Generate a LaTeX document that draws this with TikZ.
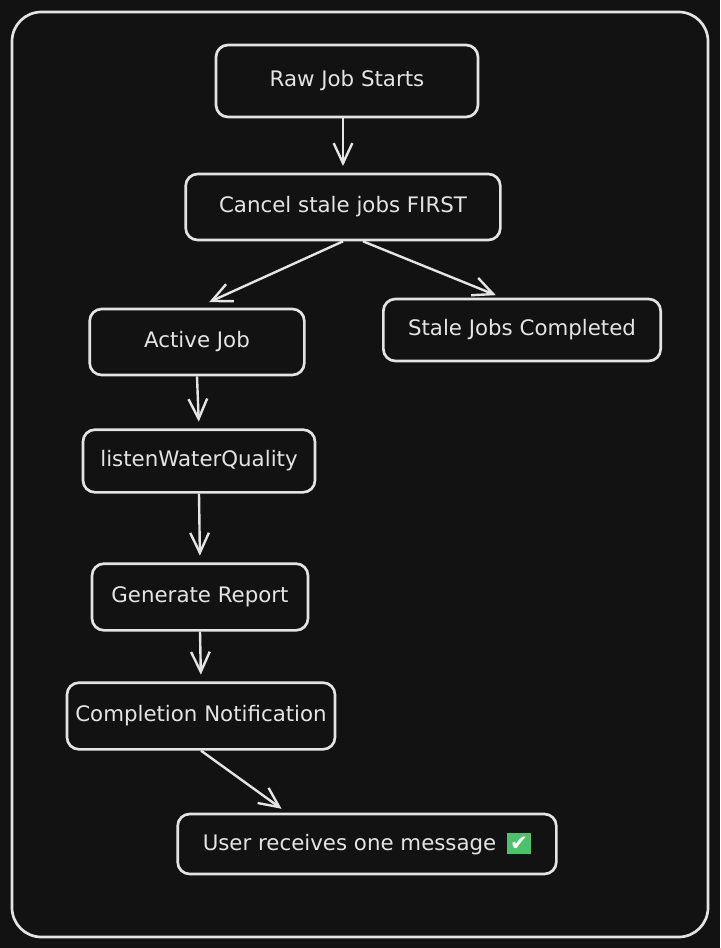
\documentclass[tikz,border=0pt]{standalone}
\usepackage{fontspec}
\setmainfont{DejaVu Sans}
\usetikzlibrary{arrows.meta}
\definecolor{canvas}{HTML}{121212}
\definecolor{ink}{HTML}{E4E4E4}
\definecolor{okgreen}{HTML}{4CC26B}
\tikzset{card/.style={draw=ink, line width=2pt, rounded corners=9pt, text=ink, font=\fontsize{16}{19}\selectfont}}
\tikzset{flow/.style={draw=ink, line width=1.8pt, ->, shorten >=5pt}}

\begin{document}
\begin{tikzpicture}[x=0.75pt, y=-0.75pt, >={Straight Barb[length=15pt, width=14pt]}]
	\useasboundingbox (0,0) rectangle (720,948);
	\fill[canvas] (0,0) rectangle (720,948);
	\draw[ink, line width=2pt, rounded corners=22pt] (12,12) rectangle (708,937);
	\node[card, minimum width=196.5pt, minimum height=54pt] (raw) at (347,81) {Raw Job Starts};
	\node[card, minimum width=236pt, minimum height=49.5pt] (cancel) at (343,207) {Cancel stale jobs FIRST};
	\node[card, minimum width=161pt, minimum height=49.5pt] (active) at (197,342) {Active Job};
	\node[card, minimum width=208pt, minimum height=46.5pt] (stale) at (522,330) {Stale Jobs Completed};
	\node[card, minimum width=174pt, minimum height=47pt] (listen) at (199,461) {listenWaterQuality};
	\node[card, minimum width=162pt, minimum height=50pt] (report) at (200,597) {Generate Report};
	\node[card, minimum width=201pt, minimum height=50pt] (notify) at (201,716) {Completion Notification};
	\node[card, minimum width=284pt, minimum height=45pt] (user) at (367,844) {User receives one message \,{\setlength{\fboxsep}{2.5pt}\colorbox{okgreen}{\textcolor{white}{✔}}}};
	\path[flow] (raw.south -| cancel.north) -- (cancel.north);
	\path[flow, shorten >=10pt] (cancel.south) -- (active.north);
	\path[flow] ([xshift=15pt]cancel.south) -- ([xshift=-15pt]stale.north);
	\path[flow] (active.south) -- (listen.north);
	\path[flow] (listen.south) -- (report.north);
	\path[flow] (report.south) -- (notify.north);
	\path[flow] (notify.south) -- ([xshift=-60pt]user.north);
\end{tikzpicture}
\end{document}
